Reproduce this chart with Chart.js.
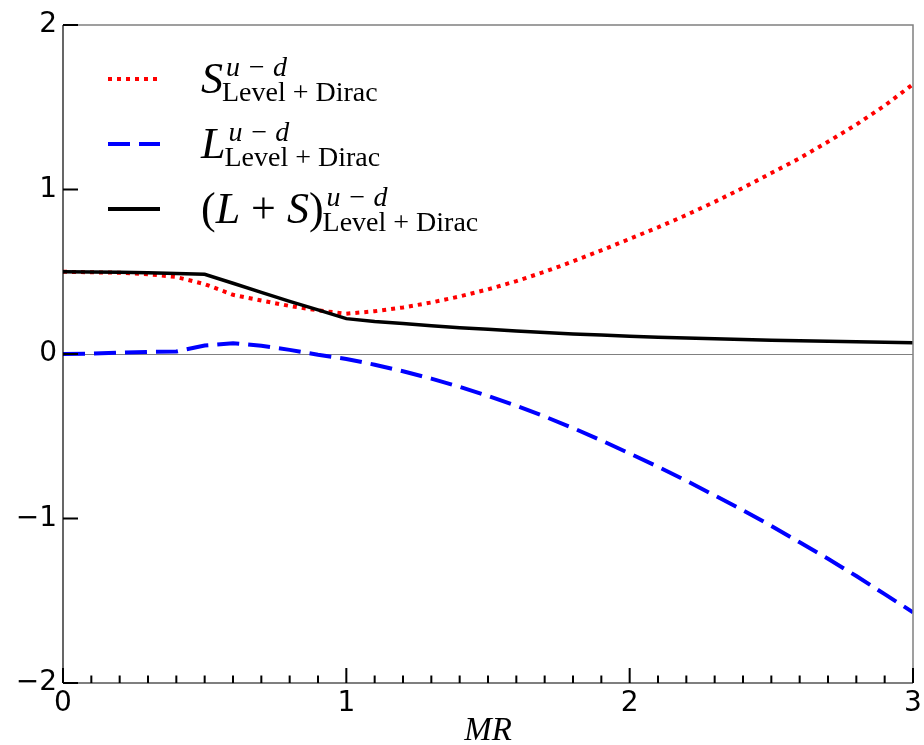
<!DOCTYPE html>
<html><head><meta charset="utf-8">
<script src="https://cdn.jsdelivr.net/npm/chart.js@4/dist/chart.umd.min.js"></script>
<style>html,body{margin:0;padding:0;background:#fff;}#wrap{width:924px;height:745px;position:relative}</style>
</head><body><div id="wrap"><canvas id="c" width="924" height="745"></canvas></div>
<script>
// ---- data ----
const mrValues = [0,0.1,0.2,0.3,0.4,0.5,0.6,0.7,0.8,0.9,1.0,1.1,1.2,1.3,1.4,1.5,1.6,1.7,1.8,1.9,2.0,2.1,2.2,2.3,2.4,2.5,2.6,2.7,2.8,2.9,3.0];
const spinS = [0.50,0.497,0.494,0.485,0.468,0.425,0.36,0.325,0.292,0.265,0.245,0.26,0.283,0.313,0.35,0.393,0.443,0.50,0.563,0.63,0.70,0.77,0.845,0.925,1.01,1.10,1.19,1.29,1.395,1.51,1.64];
const orbitalL = [0.0,0.002,0.008,0.013,0.015,0.052,0.066,0.05,0.025,-0.005,-0.03,-0.065,-0.105,-0.15,-0.2,-0.255,-0.315,-0.38,-0.45,-0.525,-0.605,-0.685,-0.77,-0.86,-0.95,-1.045,-1.145,-1.245,-1.35,-1.46,-1.57];
const totalLS = [0.50,0.499,0.497,0.494,0.49,0.485,0.43,0.375,0.32,0.268,0.215,0.198,0.185,0.172,0.16,0.15,0.14,0.13,0.122,0.115,0.108,0.102,0.097,0.092,0.088,0.084,0.08,0.077,0.074,0.071,0.068];
const xTickValues = [0,1,2,3];
const yTickValues = [-2,-1,0,1,2];
const xMinorStep = 0.1;
const axisTitle = 'MR';

const toPts = (ys) => mrValues.map((x, i) => ({x: x, y: ys[i]}));

const legendItems = [
  {color: '#ff0000', dash: [4,5], width: 4, main: [['S','i']], sup: 'u − d', sub: 'Level + Dirac'},
  {color: '#0000ff', dash: [22,9], width: 4, main: [['L','i']], sup: 'u − d', sub: 'Level + Dirac'},
  {color: '#000000', dash: [], width: 4, main: [['(','n'],['L','i'],[' + ','n'],['S','i'],[')','n']], sup: 'u − d', sub: 'Level + Dirac'}
];

const SERIF = '"Liberation Serif", "DejaVu Serif", serif';

const framePlugin = {
  id: 'framePlugin',
  beforeDatasetsDraw(chart) {
    const {ctx, chartArea: a, scales: {y}} = chart;
    const y0 = Math.round(y.getPixelForValue(0)) + 0.5;
    ctx.save();
    ctx.strokeStyle = '#808080';
    ctx.lineWidth = 1.2;
    ctx.beginPath(); ctx.moveTo(a.left, y0); ctx.lineTo(a.right, y0); ctx.stroke();
    ctx.restore();
  },
  afterDatasetsDraw(chart) {
    const {ctx, chartArea: a, scales: {x, y}} = chart;
    ctx.save();
    ctx.strokeStyle = '#808080'; ctx.lineWidth = 1.5;
    ctx.beginPath(); ctx.moveTo(a.left, a.top); ctx.lineTo(a.right, a.top); ctx.lineTo(a.right, a.bottom); ctx.stroke();
    ctx.strokeStyle = '#555555';
    ctx.beginPath(); ctx.moveTo(a.left, a.bottom); ctx.lineTo(a.right, a.bottom); ctx.stroke();
    ctx.strokeStyle = '#000000'; ctx.lineWidth = 1.2;
    ctx.beginPath(); ctx.moveTo(a.left, a.top); ctx.lineTo(a.left, a.bottom); ctx.stroke();
    ctx.strokeStyle = '#000'; ctx.lineWidth = 2;
    ctx.beginPath();
    yTickValues.forEach(v => { const py = y.getPixelForValue(v); ctx.moveTo(a.left, py); ctx.lineTo(a.left + 15, py); });
    const nMinor = Math.round((x.max - x.min) / xMinorStep);
    for (let i = 0; i <= nMinor; i++) {
      const v = x.min + i * xMinorStep;
      const major = xTickValues.some(t => Math.abs(t - v) < 1e-6);
      const px = x.getPixelForValue(v);
      ctx.moveTo(px, a.bottom); ctx.lineTo(px, a.bottom - (major ? 15 : 7.5));
    }
    ctx.stroke();
    ctx.restore();
  },
  afterDraw(chart) {
    const {ctx, chartArea: a} = chart;
    ctx.save();
    ctx.fillStyle = '#000';
    ctx.font = 'italic 33px ' + SERIF;
    ctx.textAlign = 'center'; ctx.textBaseline = 'alphabetic';
    ctx.fillText(axisTitle, (a.left + a.right) / 2, 740);
    const rowsY = [79, 144, 209];
    ctx.textAlign = 'left';
    legendItems.forEach((it, i) => {
      const ly = rowsY[i];
      ctx.strokeStyle = it.color; ctx.lineWidth = it.width; ctx.setLineDash(it.dash); ctx.lineCap = 'butt';
      ctx.beginPath(); ctx.moveTo(108, ly); ctx.lineTo(160, ly); ctx.stroke();
      ctx.setLineDash([]);
      let tx = 201;
      const base = ly + 14;
      it.main.forEach(([t, st]) => {
        ctx.font = (st === 'i' ? 'italic ' : '') + '44px ' + SERIF;
        ctx.fillText(t, tx, base);
        tx += ctx.measureText(t).width;
      });
      ctx.font = 'italic 28px ' + SERIF;
      ctx.fillText(it.sup, tx + 3, base - 17);
      ctx.font = '28px ' + SERIF;
      ctx.fillText(it.sub, tx - 1, base + 8);
    });
    ctx.restore();
  }
};

new Chart(document.getElementById('c'), {
  type: 'line',
  data: {
    datasets: [
      {label: 'S', data: toPts(spinS), borderColor: '#ff0000', borderWidth: 4, borderDash: [4,5], pointRadius: 0, tension: 0, order: 2, fill: false},
      {label: 'L', data: toPts(orbitalL), borderColor: '#0000ff', borderWidth: 4, borderDash: [22,9], pointRadius: 0, tension: 0, order: 1, fill: false},
      {label: 'L+S', data: toPts(totalLS), borderColor: '#000000', borderWidth: 3.5, pointRadius: 0, tension: 0, order: 0, fill: false}
    ]
  },
  options: {
    responsive: false, animation: false, devicePixelRatio: 1,
    layout: {padding: {top: 25, right: 11, left: 0, bottom: 0}},
    plugins: {legend: {display: false}, tooltip: {enabled: false}},
    scales: {
      x: {
        type: 'linear', min: 0, max: 3,
        grid: {display: false, drawTicks: false}, border: {display: false},
        afterBuildTicks: s => { s.ticks = xTickValues.map(v => ({value: v})); },
        ticks: {font: {family: 'DejaVu Sans', size: 28}, color: '#000', padding: 4, maxRotation: 0, autoSkip: false},
        afterFit: s => { s.height = 62; s.paddingLeft = 0; s.paddingRight = 0; }
      },
      y: {
        type: 'linear', min: -2, max: 2,
        grid: {display: false, drawTicks: false}, border: {display: false},
        afterBuildTicks: s => { s.ticks = yTickValues.map(v => ({value: v})); },
        ticks: {font: {family: 'DejaVu Sans', size: 28}, color: '#000', padding: 6, autoSkip: false,
          callback: v => String(v).replace('-', '\u2212')},
        afterFit: s => { s.width = 63; s.paddingTop = 0; s.paddingBottom = 0; }
      }
    }
  },
  plugins: [framePlugin]
});
</script></body></html>
